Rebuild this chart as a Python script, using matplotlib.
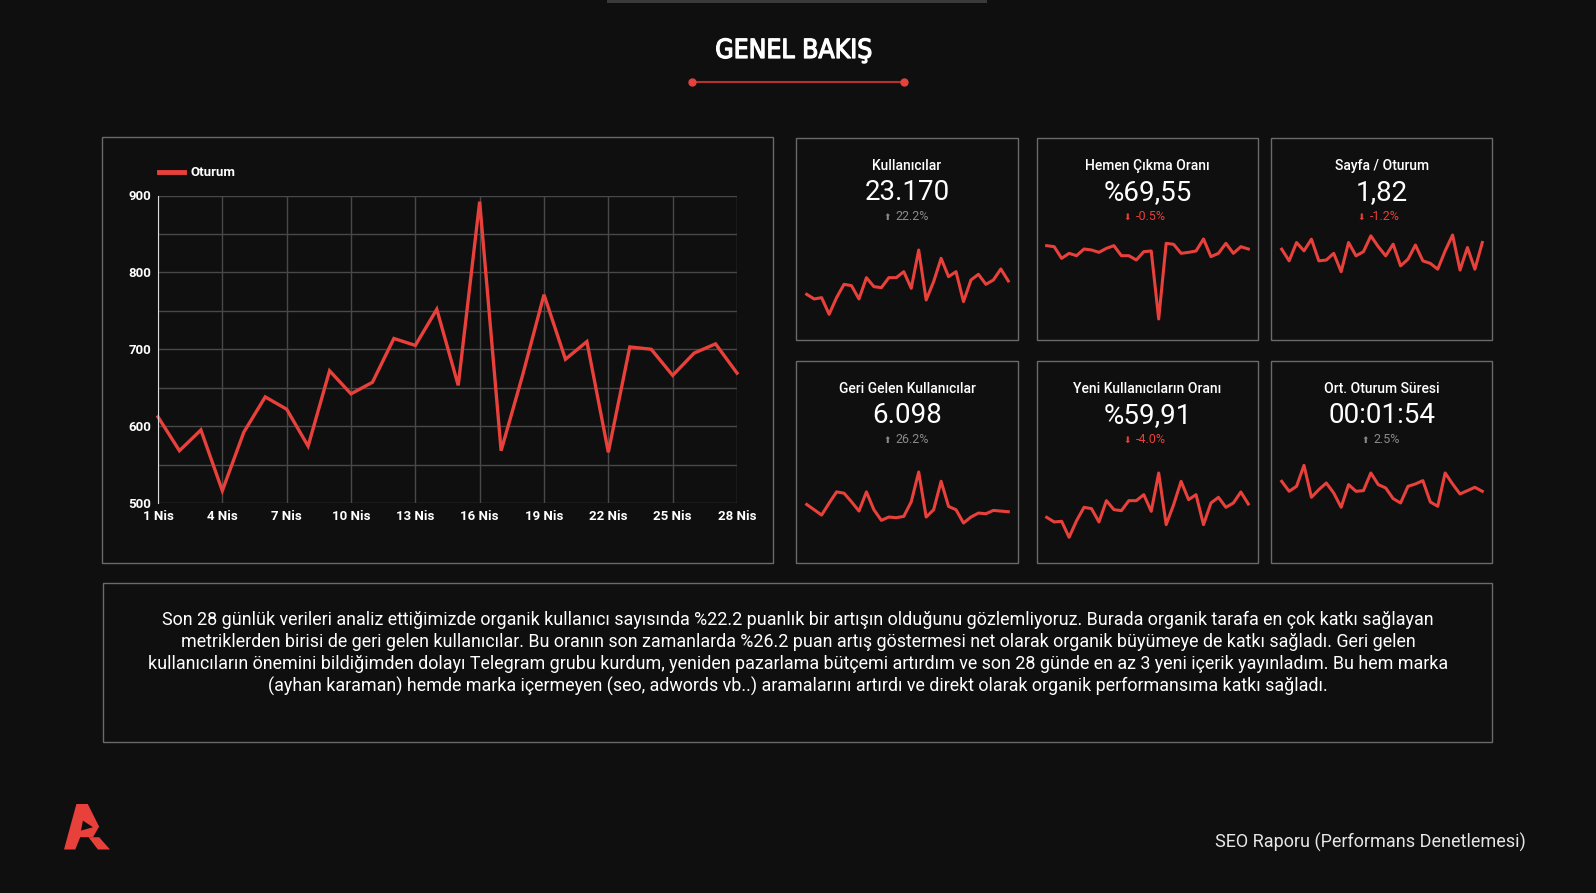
import matplotlib
matplotlib.use("Agg")
import matplotlib.pyplot as plt
import matplotlib.patheffects as pe
from matplotlib.patches import Rectangle, Polygon
from matplotlib.lines import Line2D
from matplotlib import font_manager
from matplotlib.font_manager import FontProperties

# ---- data ----
gunler = list(range(1, 29))
oturum = [612, 568, 595, 516, 592, 638, 622, 574, 672, 642, 657, 714, 705, 752,
          653, 892, 568, 666, 771, 687, 710, 566, 703, 700, 666, 695, 707, 669]
x_ticks = [1, 4, 7, 10, 13, 16, 19, 22, 25, 28]
x_labels = ["1 Nis", "4 Nis", "7 Nis", "10 Nis", "13 Nis", "16 Nis",
            "19 Nis", "22 Nis", "25 Nis", "28 Nis"]
y_ticks = [500, 600, 700, 800, 900]

kullanicilar = [782, 768, 772, 722, 772, 812, 808, 768, 832, 805, 802, 832, 832, 850,
                800, 915, 765, 820, 890, 835, 850, 760, 825, 842, 812, 825, 858, 822]
hemen_cikma = [71.3, 71.0, 67.5, 69.0, 68.3, 70.3, 70.0, 69.3, 70.5, 71.3, 68.3, 68.3, 67.0, 69.5,
               69.7, 49.3, 72.0, 71.7, 69.0, 69.3, 69.7, 73.3, 68.0, 69.0, 72.0, 69.0, 71.0, 70.3]
sayfa_oturum = [1.87, 1.73, 1.95, 1.85, 1.99, 1.73, 1.74, 1.82, 1.60, 1.95, 1.79, 1.84, 2.03, 1.90,
                1.79, 1.93, 1.67, 1.75, 1.92, 1.73, 1.70, 1.63, 1.85, 2.04, 1.62, 1.89, 1.63, 1.95]
geri_gelen = [228, 220, 212, 230, 247, 245, 232, 218, 247, 220, 204, 209, 208, 210,
              232, 277, 209, 220, 263, 225, 220, 200, 209, 215, 214, 219, 218, 217]
yeni_oran = [59.1, 58.4, 58.5, 56.1, 58.6, 60.6, 60.4, 58.4, 61.6, 60.25, 60.1, 61.6, 61.6, 62.5,
             60.0, 65.75, 58.0, 61.0, 64.5, 61.75, 62.5, 58.0, 61.25, 62.1, 60.6, 61.25, 62.9, 61.1]
ort_sure = [118, 112, 115, 127.6, 108.4, 113, 117, 111, 102.4, 116, 112, 112.4, 123, 116,
            114, 107.6, 105, 115, 116.4, 118.4, 105.6, 103, 123, 116.4, 110.4, 112.4, 114.4, 112]

kart_basliklar = ["Kullanıcılar", "Hemen Çıkma Oranı", "Sayfa / Oturum",
                  "Geri Gelen Kullanıcılar", "Yeni Kullanıcıların Oranı", "Ort. Oturum Süresi"]
kart_degerler = ["23.170", "%69,55", "1,82", "6.098", "%59,91", "00:01:54"]
kart_degisim = ["22.2%", "-0.5%", "-1.2%", "26.2%", "-4.0%", "2.5%"]
kart_yukari = [True, False, False, True, False, True]
kart_seriler = [kullanicilar, hemen_cikma, sayfa_oturum, geri_gelen, yeni_oran, ort_sure]

paragraf = [
    "Son 28 günlük verileri analiz ettiğimizde organik kullanıcı sayısında %22.2 puanlık bir artışın olduğunu gözlemliyoruz. Burada organik tarafa en çok katkı sağlayan",
    "metriklerden birisi de geri gelen kullanıcılar. Bu oranın son zamanlarda %26.2 puan artış göstermesi net olarak organik büyümeye de katkı sağladı. Geri gelen",
    "kullanıcıların önemini bildiğimden dolayı Telegram grubu kurdum, yeniden pazarlama bütçemi artırdım ve son 28 günde en az 3 yeni içerik yayınladım. Bu hem marka",
    "(ayhan karaman) hemde marka içermeyen (seo, adwords vb..) aramalarını artırdı ve direkt olarak organik performansıma katkı sağladı.",
]

# ---- style ----
BG = "#0f0f0f"
RED = "#e8403a"
BORDER = "#6a6a6a"
W, H = 1596, 893

plt.rcParams["font.family"] = ["Roboto", "DejaVu Sans"]

# condensed face for the title (Oswald-like in the original)
dar = [f for f in font_manager.fontManager.ttflist
       if "condensed" in str(f.stretch).lower() or "Narrow" in f.name or "Condensed" in f.name]
dar_normal = [f for f in dar if f.weight in (400, "normal", "regular", "book")
              and f.style == "normal"]
if dar_normal:
    baslik_fp = FontProperties(fname=dar_normal[0].fname, size=19)
elif dar:
    baslik_fp = FontProperties(fname=dar[0].fname, size=17)
else:
    baslik_fp = FontProperties(family="Roboto", weight="medium", size=17)


def rect(x0, y0, x1, y1):
    return [x0 / W, 1 - y1 / H, (x1 - x0) / W, (y1 - y0) / H]


def fx(x):
    return x / W


def fy(y):
    return 1 - y / H


fig = plt.figure(figsize=(W / 100, H / 100), dpi=100, facecolor=BG)


def box(x0, y0, x1, y1, color=BORDER):
    fig.add_artist(Rectangle((fx(x0), fy(y1)), (x1 - x0) / W, (y1 - y0) / H,
                             transform=fig.transFigure, fill=False,
                             edgecolor=color, linewidth=1))


# top bar + title
fig.add_artist(Rectangle((fx(607), fy(3)), 380 / W, 3 / H, transform=fig.transFigure,
                         color="#3a3a3a", linewidth=0))
fig.text(fx(794), fy(51), "GENEL BAKIŞ", color="white", fontproperties=baslik_fp,
         ha="center", va="center",
         path_effects=[pe.withStroke(linewidth=0.9, foreground="white")])
fig.add_artist(Line2D([fx(692), fx(904)], [fy(82), fy(82)], transform=fig.transFigure,
                      color="#b8302a", linewidth=1.5))
fig.add_artist(Line2D([fx(692), fx(904)], [fy(82), fy(82)], transform=fig.transFigure,
                      color=RED, linestyle="none", marker="o", markersize=5))

# main chart
box(102, 137, 773, 563)
ax = fig.add_axes(rect(158, 195.5, 737, 503))
ax.set_facecolor("none")
ax.plot(gunler, oturum, color=RED, linewidth=2.4, solid_joinstyle="miter", label="Oturum",
        clip_on=False, zorder=3)
ax.set_xlim(1, 28)
ax.set_ylim(500, 900)
ax.set_xticks(x_ticks)
ax.set_xticklabels(x_labels)
ax.set_yticks(y_ticks)
ax.set_yticks([550, 650, 750, 850], minor=True)
ax.grid(True, which="both", color="#484848", linewidth=1)
ax.tick_params(which="both", length=0, colors="white", labelsize=9.5, pad=5)
for lab in ax.get_xticklabels() + ax.get_yticklabels():
    lab.set_fontweight("bold")
for s in ["top", "right", "bottom"]:
    ax.spines[s].set_visible(False)
ax.spines["left"].set_color("#dddddd")
ax.spines["left"].set_zorder(4)
leg = ax.legend(loc="center left", bbox_to_anchor=(fx(152), fy(173)),
                bbox_transform=fig.transFigure, frameon=False, handlelength=1.9,
                handletextpad=0.5, borderpad=0, prop={"weight": "bold", "size": 9.5})
for t in leg.get_texts():
    t.set_color("white")
for h in leg.legend_handles:
    h.set_linewidth(3.5)

# score cards
kartlar = [(796, 137.7, 1018, 340), (1036.5, 137.7, 1258.3, 340), (1271, 137.7, 1492.3, 340),
           (796, 360.7, 1018, 563), (1036.5, 360.7, 1258.3, 563), (1271, 360.7, 1492.3, 563)]
spark_alan = [(806.7, 250, 1008.3, 314.3), (1046.7, 239, 1248.3, 319), (1281.7, 235, 1482.3, 271.7),
              (806.7, 472, 1008.3, 523), (1046.7, 473, 1248.3, 537.3), (1281.7, 465.3, 1482.3, 507.3)]

for i in range(6):
    x0, y0, x1, y1 = kartlar[i]
    box(x0, y0, x1, y1)
    cx = (x0 + x1) / 2
    fig.text(fx(cx), fy(y0 + 28), kart_basliklar[i], color="white", fontsize=10,
             fontweight="medium", ha="center", va="center")
    fig.text(fx(cx), fy(y0 + 55), kart_degerler[i], color="white", fontsize=20,
             ha="center", va="center")
    renk = "#8a8a8a" if kart_yukari[i] else RED
    tx = cx - 12 + (5 - len(kart_degisim[i])) * 3.5
    fig.text(fx(tx), fy(y0 + 79), kart_degisim[i], color=renk, fontsize=9,
             ha="left", va="center")
    fig.text(fx(tx - 8), fy(y0 + 80), "⬆" if kart_yukari[i] else "⬇", color=renk,
             fontsize=6.5, family="DejaVu Sans", ha="center", va="center")

    sx = fig.add_axes(rect(*spark_alan[i]))
    seri = kart_seriler[i]
    sx.plot(range(len(seri)), seri, color=RED, linewidth=2.2, clip_on=False)
    sx.set_xlim(0, len(seri) - 1)
    sx.set_ylim(min(seri), max(seri))
    sx.axis("off")

# commentary box
box(103, 583, 1492, 742)
for k, satir in enumerate(paragraf):
    fig.text(fx(798), fy(620 + k * 22), satir, color="white", fontsize=12.9,
             ha="center", va="center")

# footer
fig.text(fx(1526), fy(842), "SEO Raporu (Performans Denetlemesi)", color="#e6e6e6",
         fontsize=13, ha="right", va="center")

# logo
logo_ana = [(64, 849.5), (76.4, 804), (87.8, 804), (99.1, 826.6), (93, 837.2),
            (80.2, 837.2), (75.3, 849.5)]
logo_bosluk = [(82.9, 820.6), (81, 830.6), (93, 827.2)]
logo_ayak = [(88.5, 837.2), (99.1, 837.2), (110, 849.5), (97.9, 849.5)]
for pts, c in [(logo_ana, RED), (logo_ayak, RED), (logo_bosluk, BG)]:
    fig.add_artist(Polygon([(fx(a), fy(b)) for a, b in pts], closed=True,
                           transform=fig.transFigure, facecolor=c, edgecolor="none"))

fig.savefig("out.png", dpi=100, facecolor=BG)
